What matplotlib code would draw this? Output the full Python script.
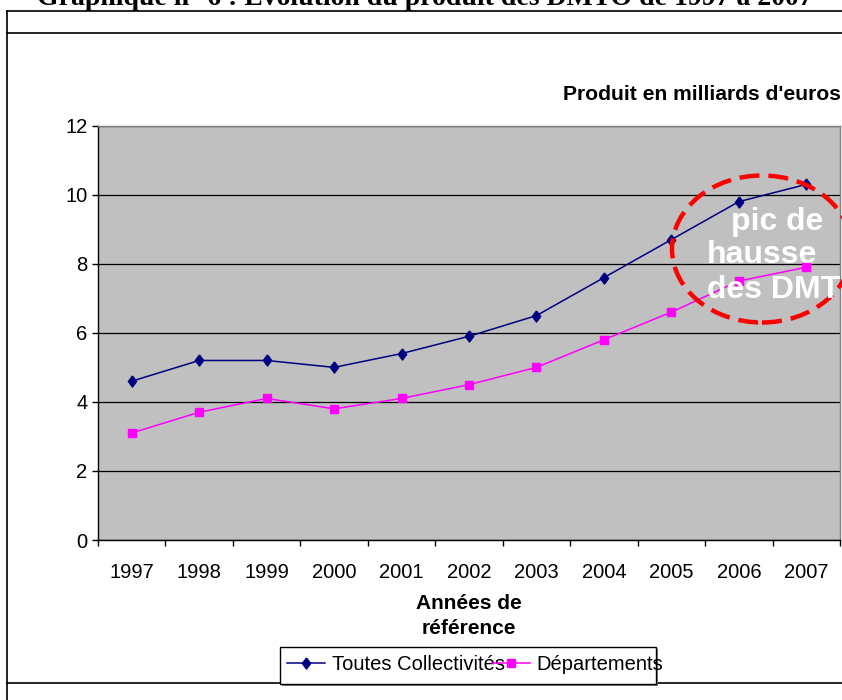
import matplotlib
matplotlib.use("Agg")
import matplotlib.pyplot as plt
from matplotlib.patches import Ellipse, Rectangle
from matplotlib.lines import Line2D

# donnees
annees = ['1997', '1998', '1999', '2000', '2001', '2002', '2003', '2004', '2005', '2006', '2007']
toutes_collectivites = [4.6, 5.2, 5.2, 5.0, 5.4, 5.9, 6.5, 7.6, 8.7, 9.8, 10.3]
departements = [3.1, 3.7, 4.1, 3.8, 4.1, 4.5, 5.0, 5.8, 6.6, 7.5, 7.9]
y_ticks = [0, 2, 4, 6, 8, 10, 12]

plt.rcParams['font.family'] = ['Liberation Sans', 'DejaVu Sans']

W, H = 842, 700
fig = plt.figure(figsize=(W / 100, H / 100), dpi=100)

def fx(px):
    return px / W

def fy(py):
    return 1 - py / H

# cadre autour du graphique
for y in (11, 33, 683):
    fig.add_artist(Line2D([fx(7), 1], [fy(y), fy(y)], color='black', lw=1.2, transform=fig.transFigure))
fig.add_artist(Line2D([fx(7), fx(7)], [fy(11), 0], color='black', lw=1.2, transform=fig.transFigure))

fig.text(fx(425), fy(5), "Graphique n° 6 : Évolution du produit des DMTO de 1997 à 2007",
         family='Liberation Serif', fontweight='bold', fontsize=20, ha='center', va='baseline')

ax = fig.add_axes([fx(98), fy(540), fx(840) - fx(98), fy(125.7) - fy(540)])
ax.set_facecolor('#C0C0C0')

x = list(range(len(annees)))
diamant = [(0, 1), (0.75, 0), (0, -1), (-0.75, 0), (0, 1)]
ax.plot(x, toutes_collectivites, color='#000080', lw=1.1, marker=diamant, markersize=8,
        label='Toutes Collectivités', zorder=3)
ax.plot(x, departements, color='#FF00FF', lw=1.1, marker='s', markersize=5.5,
        label='Départements', zorder=3)

ax.set_xlim(-0.5, len(annees) - 0.5)
ax.set_ylim(0, 12)
ax.set_yticks(y_ticks)
ax.set_xticks(x)
ax.set_xticklabels(annees)
ax.set_xticks([i - 0.5 for i in range(len(annees) + 1)], minor=True)
ax.tick_params(axis='x', which='major', length=0, pad=16.5, labelsize=14.5)
ax.tick_params(axis='x', which='minor', length=4, width=1, color='black')
ax.tick_params(axis='y', length=4, width=1, pad=3.5, labelsize=14.5)
ax.yaxis.grid(True, color='black', lw=0.9)
ax.set_axisbelow(True)

for s in ('top', 'right'):
    ax.spines[s].set_color('#808080')
for s in ('left', 'bottom'):
    ax.spines[s].set_color('black')
for s in ax.spines.values():
    s.set_linewidth(1)

fig.text(fx(563), fy(95), "Produit en milliards d'euros", fontweight='bold', fontsize=15.2,
         ha='left', va='center')
fig.text(fx(469), fy(616), "Années de\nréférence", fontweight='bold', fontsize=15,
         ha='center', va='center', linespacing=1.45)

# ellipse rouge en pointilles
ell = Ellipse((fx(762), fy(249)), fx(180), 147 / H, transform=fig.transFigure,
              fill=False, edgecolor='#FF0000', lw=3.2, linestyle=(0, (4.5, 2)), zorder=5)
fig.add_artist(ell)
for txt, cx, base in [("pic de", 777, 230), ("hausse", 762, 263), ("des DMT", 774, 298)]:
    fig.text(fx(cx), fy(base), txt, color='white', fontweight='bold', fontsize=23,
             ha='center', va='baseline', zorder=6)

# legende : cadre plus etroit que le texte, comme dans l'original
fig.add_artist(Rectangle((fx(282), fy(686)), fx(376), 37 / H, transform=fig.transFigure,
                         facecolor='#808080', edgecolor='none', zorder=7))
fig.add_artist(Rectangle((fx(280), fy(684)), fx(376), 37 / H, transform=fig.transFigure,
                         facecolor='white', edgecolor='black', lw=1, zorder=7))
leg = fig.legend(loc='center left', bbox_to_anchor=(fx(287), fy(665)), ncol=2, fontsize=14.5,
                 frameon=False, handlelength=1.9, handletextpad=0.33, columnspacing=-0.65,
                 borderpad=0, borderaxespad=0)
leg.set_zorder(8)

fig.savefig('out.png', dpi=100)
